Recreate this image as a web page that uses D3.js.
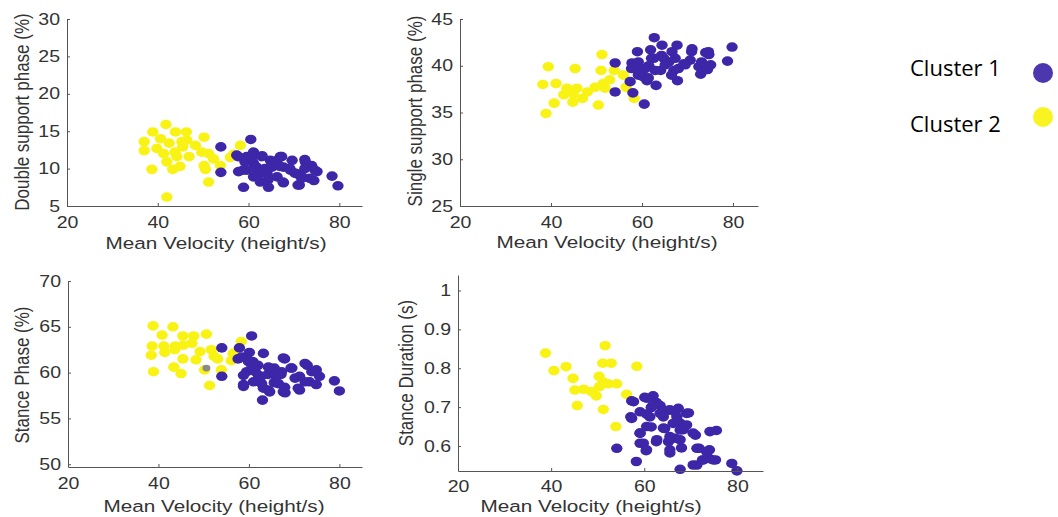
<!DOCTYPE html>
<html>
<head>
<meta charset="utf-8">
<script src="https://cdn.jsdelivr.net/npm/d3@7"></script>
<style>
  body { margin: 0; background: #fff; }
  svg { display: block; }
  .axis text { font-family: "Liberation Sans", Arial, sans-serif; font-size: 16px; fill: #333; }
  .axis path, .axis line { stroke: #555; }
  .title { font-family: "Liberation Sans", Arial, sans-serif; font-size: 17px; fill: #333; }
  .legend text { font-family: "Open Sans", "Noto Sans", sans-serif; font-size: 22px; fill: #000; }
</style>
</head>
<body>
<div id="chart-area"></div>
<script>
// Canvas size
var width = 1058,
	height = 517;

// Mean velocity (height/s) vs double support phase (%)
var dspCluster1 = [[53.9,12.9],[53.9,9.5],[60.5,13.9],[57.4,11.8],[58.9,7.5],[59.6,11.6],[61.1,10.7],[59.6,9.8],[57.8,9.6],[63.0,11.7],[61.8,10.2],[64.1,9.3],[62.6,8.2],[64.4,7.5],[65.2,10.2],[67.0,11.6],[67.7,10.2],[67.7,8.1],[66.3,8.9],[69.2,9.8],[70.7,9.3],[71.2,7.8],[72.5,10.9],[73.9,10.4],[75.1,9.6],[74.4,8.4],[71.8,8.9],[78.4,9.0],[79.7,7.7],[64.8,11.1],[61.1,8.9],[69.6,11.1],[66.3,11.1],[61.1,12.2],
	[57.7,11.6],[59.2,10.9],[60.7,11.4],[62.9,11.6],[58.8,9.8],[61.4,10.0],[63.6,10.0],[65.1,10.5],[67.3,11.6],[66.9,10.3],[69.1,10.0],[70.2,9.4],[72.4,11.2],[74.6,9.8],[73.5,8.7],[62.1,9.1],[64.3,8.5],[67.6,8.2],[70.9,7.8],[72.4,10.0],[71.7,8.7]];
var dspCluster2 = [[41.8,15.9],[38.9,14.9],[43.9,14.9],[46.3,14.9],[37.0,13.6],[40.6,14.0],[42.5,13.4],[45.3,13.6],[46.4,13.8],[50.2,14.2],[48.3,13.1],[37.0,12.4],[39.8,12.7],[41.3,12.0],[43.8,12.2],[45.5,12.9],[44.2,11.6],[46.9,11.6],[42.0,10.9],[49.7,12.2],[51.2,12.0],[52.3,11.3],[50.2,10.4],[53.8,10.4],[38.7,9.9],[43.3,9.9],[44.9,10.3],[50.5,9.9],[51.2,8.2],[42.0,6.2],[56.0,11.5],[58.2,13.1],[56.7,11.9]];

// Mean velocity vs single support phase (%)
var sspCluster1 = [[62.7,43.0],[54.1,40.3],[54.1,37.2],[60.5,35.9],[58.0,37.1],[57.4,38.3],[57.8,40.3],[59.0,41.5],[60.0,39.5],[61.1,38.4],[63.1,37.9],[62.6,40.8],[61.9,41.7],[64.4,42.2],[64.8,40.8],[64.1,39.5],[65.9,40.4],[66.6,41.5],[67.7,42.2],[67.8,38.4],[67.0,39.5],[69.2,40.2],[71.0,41.8],[70.6,40.6],[72.5,39.9],[72.9,39.1],[74.0,41.4],[74.7,41.2],[75.1,40.1],[74.4,39.6],[78.8,40.5],[79.8,42.0],[60.3,38.8],[59.2,39.9],[61.5,40.0],
	[59.2,40.4],[60.7,39.7],[62.1,40.8],[64.3,41.1],[65.1,40.1],[61.4,38.7],[59.2,39.0],[67.3,40.8],[68.0,39.7],[69.5,40.1],[70.9,41.5],[73.1,40.4],[74.6,41.5],[57.7,39.7],[62.9,39.5],[66.5,39.0]];
var sspCluster2 = [[39.4,39.9],[45.3,39.7],[51.0,39.5],[51.2,41.2],[38.2,38.0],[41.1,38.1],[43.5,37.6],[45.7,37.6],[42.8,36.9],[44.9,37.0],[46.9,36.5],[48.0,37.2],[49.7,37.7],[51.5,38.1],[52.9,38.5],[51.9,37.6],[44.8,36.1],[40.7,36.0],[38.9,34.9],[50.4,35.8],[53.9,39.5],[55.9,39.0],[56.5,37.7],[58.3,36.5]];

// Mean velocity vs stance phase (%)
var spCluster1 = [[60.6,64.0],[54.0,62.7],[54.0,59.6],[57.9,62.7],[57.6,61.5],[59.8,61.4],[60.9,61.2],[59.5,60.1],[61.4,60.1],[63.2,62.1],[62.7,59.6],[58.8,58.5],[63.2,58.3],[63.0,57.0],[64.6,57.9],[64.2,59.8],[65.6,60.5],[67.1,59.8],[67.9,61.5],[67.9,58.4],[68.0,57.8],[69.3,60.5],[71.2,59.6],[71.2,58.1],[72.9,60.8],[74.9,60.3],[73.4,59.0],[74.9,58.7],[75.6,59.6],[78.9,59.1],[80.0,58.0],[65.6,58.9],[62.0,60.8],[60.1,62.2],
	[58.4,61.7],[59.9,61.2],[60.6,60.5],[58.8,59.7],[62.1,59.7],[64.3,60.6],[65.8,59.7],[67.6,61.6],[67.2,60.1],[69.5,60.5],[70.2,59.4],[72.4,61.0],[72.4,59.0],[73.9,60.1],[62.8,58.8],[66.5,58.8],[64.3,58.1],[67.6,57.9],[70.9,58.3],[58.8,58.7],[61.0,59.0]];
var spCluster2 = [[38.8,65.1],[43.2,65.0],[40.8,64.1],[45.4,64.0],[47.8,64.0],[50.6,64.2],[38.6,62.9],[41.2,62.9],[43.7,62.9],[45.5,63.0],[47.4,63.2],[38.4,61.9],[41.4,62.2],[43.6,62.5],[49.2,62.3],[51.7,62.5],[52.3,61.8],[53.1,61.5],[45.4,61.5],[48.3,61.4],[38.9,60.1],[43.4,60.6],[45.0,59.9],[51.3,58.6],[50.2,60.3],[53.9,60.3],[56.1,61.3],[56.5,62.1],[58.3,63.4]];
var spOther = [[50.6,60.5]];

// Mean velocity vs stance duration (s)
var sdCluster1 = [[57.3,0.716],[57.1,0.675],[54.1,0.594],[58.3,0.560],[59.1,0.633],[59.1,0.607],[60.4,0.588],[60.1,0.725],[61.9,0.729],[61.5,0.699],[60.5,0.682],[63.4,0.704],[64.1,0.675],[61.5,0.649],[62.6,0.611],[64.4,0.645],[65.2,0.611],[66.6,0.688],[67.3,0.697],[69.5,0.685],[67.7,0.659],[68.4,0.642],[66.6,0.620],[65.5,0.582],[68.0,0.595],[67.7,0.540],[71.0,0.628],[71.8,0.594],[74.0,0.590],[74.1,0.637],[75.5,0.640],[72.5,0.564],[73.9,0.568],[75.3,0.564],[71.3,0.551],[78.8,0.555],[79.9,0.536],[64.8,0.691],[62.6,0.712],
	[57.7,0.714],[60.5,0.723],[61.9,0.706],[59.1,0.688],[61.2,0.675],[63.4,0.684],[65.5,0.693],[67.0,0.675],[69.1,0.684],[57.3,0.671],[60.5,0.650],[64.1,0.646],[66.2,0.658],[67.7,0.641],[69.1,0.654],[59.1,0.633],[62.7,0.616],[65.5,0.624],[67.7,0.616],[70.5,0.633],[59.8,0.607],[65.5,0.590],[71.3,0.594],[73.4,0.585],[72.7,0.564],[74.8,0.564],[70.5,0.551],[60.5,0.590]];
var sdCluster2 = [[38.8,0.839],[40.6,0.794],[43.2,0.804],[44.7,0.774],[45.1,0.744],[47.0,0.746],[48.7,0.740],[49.7,0.729],[50.4,0.753],[50.3,0.779],[51.6,0.858],[51.1,0.813],[52.9,0.813],[51.2,0.764],[52.3,0.760],[54.1,0.760],[45.6,0.704],[51.2,0.694],[53.9,0.650],[56.2,0.733],[58.4,0.805]];

var xTicks = [20, 40, 60, 80];
var xTitle = "Mean Velocity (height/s)";
var clusterNames = ["Cluster 1", "Cluster 2"];
var clusterColors = ["#3e26a8", "#f9f315"];

var stretch = 1.22; // horizontal stretch of the original figure

// panel layout
var panels = [
	{ c1: dspCluster1, c2: dspCluster2, other: [],
	  xDomain: [20, 85], xRange: [67, 362], yDomain: [5, 30], yRange: [206, 19],
	  yTicks: [5, 10, 15, 20, 25, 30], yTitle: "Double support phase (%)",
	  yTitlePos: [29, 112], xTitlePos: [216, 249], tickGap: 22 },
	{ c1: sspCluster1, c2: sspCluster2, other: [],
	  xDomain: [20, 85.5], xRange: [460, 758], yDomain: [25, 45], yRange: [206, 19],
	  yTicks: [25, 30, 35, 40, 45], yTitle: "Single support phase (%)",
	  yTitlePos: [422, 111], xTitlePos: [607, 248], tickGap: 22 },
	{ c1: spCluster1, c2: spCluster2, other: spOther,
	  xDomain: [20, 85], xRange: [68, 362], yDomain: [49.7, 70], yRange: [467, 281],
	  yTicks: [50, 55, 60, 65, 70], yTitle: "Stance Phase (%)",
	  yTitlePos: [29, 375], xTitlePos: [214, 512], tickGap: 22 },
	{ c1: sdCluster1, c2: sdCluster2, other: [],
	  xDomain: [20, 85.5], xRange: [458, 763], yDomain: [0.5356, 1.04], yRange: [471, 275],
	  yTicks: [0.6, 0.7, 0.8, 0.9, 1], yTitle: "Stance Duration (s)",
	  yTitlePos: [413, 373], xTitlePos: [591, 512], tickGap: 21 }
];

var svg = d3.select("#chart-area").append("svg")
	.attr("width", width)
	.attr("height", height);

panels.forEach(function(p) {
	var x = d3.scaleLinear().domain(p.xDomain).range(p.xRange);
	var y = d3.scaleLinear().domain(p.yDomain).range(p.yRange);
	var g = svg.append("g");

	// dots: cluster 2 under cluster 1
	var series = [
		{ data: p.c2, color: clusterColors[1], rx: 5.7, ry: 4.8 },
		{ data: p.c1, color: clusterColors[0], rx: 5.7, ry: 4.8 },
		{ data: p.other, color: "#8a8a8a", rx: 4, ry: 3.4 }
	];
	series.forEach(function(s) {
		g.selectAll(null)
			.data(s.data)
			.enter()
			.append("ellipse")
			.attr("cx", function(d) { return x(d[0]); })
			.attr("cy", function(d) { return y(d[1]); })
			.attr("rx", s.rx)
			.attr("ry", s.ry)
			.attr("fill", s.color);
	});

	// axes
	var xAxis = d3.axisBottom(x).tickValues(xTicks)
		.tickSizeInner(-3).tickSizeOuter(0).tickPadding(0);
	var gx = g.append("g")
		.attr("class", "axis")
		.attr("transform", "translate(0," + p.yRange[0] + ")")
		.call(xAxis);
	gx.selectAll("text")
		.attr("y", 0).attr("dy", 0)
		.attr("transform", "translate(0," + p.tickGap + ") scale(" + stretch + ",1)");

	var yAxis = d3.axisLeft(y).tickValues(p.yTicks)
		.tickSizeInner(-3).tickSizeOuter(0).tickPadding(0)
		.tickFormat(function(d) { return String(d); });
	var gy = g.append("g")
		.attr("class", "axis")
		.attr("transform", "translate(" + p.xRange[0] + ",0)")
		.call(yAxis);
	gy.selectAll("text")
		.attr("x", 0)
		.attr("transform", "translate(-7,0) scale(" + stretch + ",1)");

	// titles
	g.append("text")
		.attr("class", "title")
		.attr("text-anchor", "middle")
		.attr("transform", "translate(" + p.xTitlePos[0] + "," + p.xTitlePos[1] + ") scale(" + stretch + ",1)")
		.text(xTitle);

	g.append("text")
		.attr("class", "title")
		.attr("text-anchor", "middle")
		.attr("transform", "translate(" + p.yTitlePos[0] + "," + p.yTitlePos[1] + ") scale(" + stretch + ",1) rotate(-90)")
		.text(p.yTitle);
});

// legend
var legend = svg.append("g").attr("class", "legend");
clusterNames.forEach(function(name, i) {
	legend.append("text")
		.attr("x", 910)
		.attr("y", 76 + i * 56)
		.text(name);
	legend.append("circle")
		.attr("cx", 1043)
		.attr("cy", 73 + i * 44)
		.attr("r", 10)
		.attr("fill", clusterColors[i])
		.attr("opacity", i === 0 ? 0.92 : 0.95);
});
</script>
</body>
</html>
